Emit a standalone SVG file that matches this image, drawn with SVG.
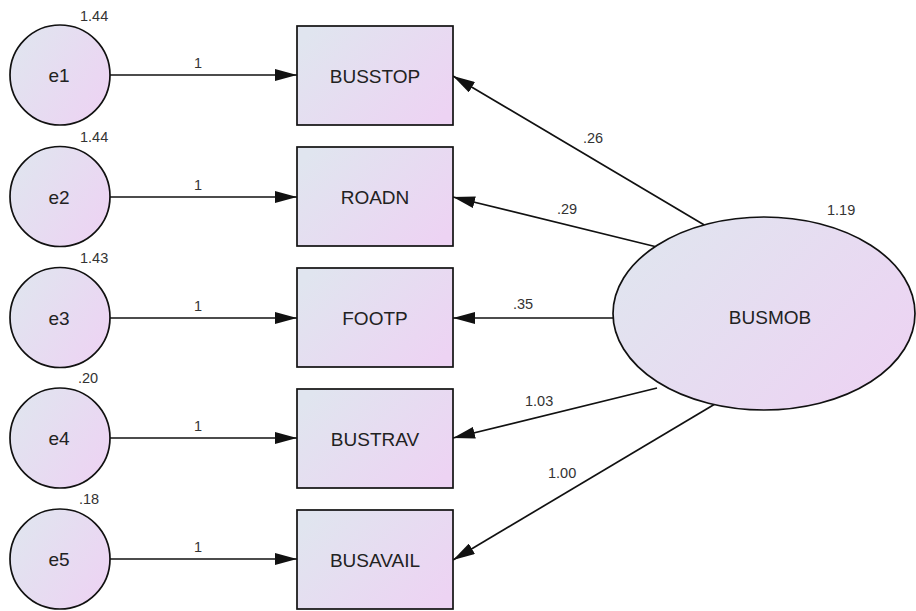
<svg xmlns="http://www.w3.org/2000/svg" width="916" height="611" viewBox="0 0 916 611">
  <style>
    .node { stroke: #111; stroke-width: 1.7; fill: url(#fillGrad); }
    .label { font-family: "Liberation Sans", Arial, sans-serif; font-size: 19px; fill: #222; text-anchor: middle; }
    .num { font-family: "Liberation Sans", Arial, sans-serif; font-size: 14.5px; fill: #333; }
    .mid { text-anchor: middle; }
    .edge { stroke: #111; stroke-width: 1.7; fill: none; marker-end: url(#arrow); }
  </style>
  <defs>
    <linearGradient id="fillGrad" x1="0" y1="0.2" x2="1" y2="0.8">
      <stop offset="0" stop-color="#e0e5ef"/>
      <stop offset="1" stop-color="#edd3f3"/>
    </linearGradient>
    <marker id="arrow" viewBox="0 0 22 12" refX="22" refY="6" markerWidth="22" markerHeight="12" markerUnits="userSpaceOnUse" orient="auto">
      <path d="M0,0 L22,6 L0,12 z" fill="#111"/>
    </marker>
  </defs>

  <rect width="916" height="611" fill="#ffffff"/>

  <!-- connectors -->
  <g id="connectors">
    <line class="edge" x1="110" y1="75" x2="297" y2="75"/>
    <line class="edge" x1="110" y1="197" x2="297" y2="197"/>
    <line class="edge" x1="110" y1="318" x2="297" y2="318"/>
    <line class="edge" x1="110" y1="438" x2="297" y2="438"/>
    <line class="edge" x1="110" y1="559" x2="297" y2="559"/>
    <text class="num mid" x="198" y="68">1</text>
    <text class="num mid" x="198" y="190">1</text>
    <text class="num mid" x="198" y="311">1</text>
    <text class="num mid" x="198" y="431">1</text>
    <text class="num mid" x="198" y="552">1</text>

    <line class="edge" x1="706" y1="226" x2="453" y2="76"/>
    <line class="edge" x1="657" y1="247" x2="453" y2="197"/>
    <line class="edge" x1="613" y1="318" x2="453" y2="318"/>
    <line class="edge" x1="657" y1="388" x2="453" y2="438"/>
    <line class="edge" x1="715" y1="404" x2="453" y2="560"/>
    <text class="num" x="583" y="143">.26</text>
    <text class="num" x="557" y="214">.29</text>
    <text class="num" x="513" y="309">.35</text>
    <text class="num" x="525" y="406">1.03</text>
    <text class="num" x="548" y="478">1.00</text>
  </g>

  <!-- error terms -->
  <g id="e1">
    <circle class="node" cx="60" cy="75" r="50"/>
    <text class="label" x="59" y="82">e1</text>
    <text class="num" x="80" y="21">1.44</text>
  </g>
  <g id="e2">
    <circle class="node" cx="60" cy="196.5" r="50"/>
    <text class="label" x="59" y="203.5">e2</text>
    <text class="num" x="80" y="142">1.44</text>
  </g>
  <g id="e3">
    <circle class="node" cx="60" cy="317.5" r="50"/>
    <text class="label" x="59" y="324.5">e3</text>
    <text class="num" x="80" y="263">1.43</text>
  </g>
  <g id="e4">
    <circle class="node" cx="60" cy="438" r="50"/>
    <text class="label" x="59" y="445">e4</text>
    <text class="num" x="78" y="383">.20</text>
  </g>
  <g id="e5">
    <circle class="node" cx="60" cy="559" r="50"/>
    <text class="label" x="59" y="566">e5</text>
    <text class="num" x="79" y="504">.18</text>
  </g>

  <!-- observed indicators -->
  <g id="BUSSTOP">
    <rect class="node" x="297" y="26" width="156" height="99"/>
    <text class="label" x="375" y="83">BUSSTOP</text>
  </g>
  <g id="ROADN">
    <rect class="node" x="297" y="147" width="156" height="99"/>
    <text class="label" x="375" y="204">ROADN</text>
  </g>
  <g id="FOOTP">
    <rect class="node" x="297" y="268" width="156" height="99"/>
    <text class="label" x="375" y="325">FOOTP</text>
  </g>
  <g id="BUSTRAV">
    <rect class="node" x="297" y="389" width="156" height="99"/>
    <text class="label" x="375" y="446">BUSTRAV</text>
  </g>
  <g id="BUSAVAIL">
    <rect class="node" x="297" y="510" width="156" height="99"/>
    <text class="label" x="375" y="567">BUSAVAIL</text>
  </g>

  <!-- latent factor -->
  <g id="BUSMOB">
    <ellipse class="node" cx="764" cy="313.5" rx="151" ry="96.5"/>
    <text class="label" x="770" y="324">BUSMOB</text>
    <text class="num" x="827" y="215">1.19</text>
  </g>
</svg>
